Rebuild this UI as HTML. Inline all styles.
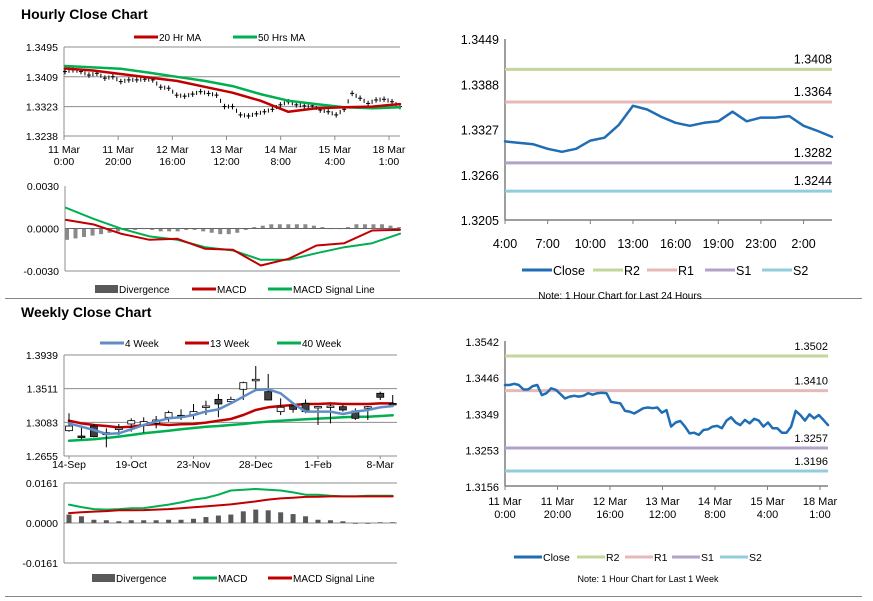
<!DOCTYPE html>
<html><head><meta charset="utf-8"><style>
html,body{margin:0;padding:0;background:#fff;}
svg{display:block;font-family:"Liberation Sans",Arial,sans-serif;}
</style></head><body>
<svg id="s" width="873" height="601" viewBox="0 0 873 601" xmlns="http://www.w3.org/2000/svg">
<rect x="0" y="0" width="873" height="601" fill="#fff"/>
<text x="21" y="19" font-size="14" font-weight="bold" fill="#000">Hourly Close Chart</text>
<text x="21" y="317" font-size="14" font-weight="bold" fill="#000">Weekly Close Chart</text>
<line x1="5" y1="298.5" x2="862" y2="298.5" stroke="#888" stroke-width="1"/>
<line x1="5" y1="596.5" x2="862" y2="596.5" stroke="#888" stroke-width="1"/>
<g id="g"></g>
</svg>
<script>
// ---------- DATA ----------
const hTicks = [1.3495, 1.3409, 1.3323, 1.3238];
const hXLabels = [["11 Mar","0:00"],["11 Mar","20:00"],["12 Mar","16:00"],["13 Mar","12:00"],["14 Mar","8:00"],["15 Mar","4:00"],["18 Mar","1:00"]];
const hClose = [1.3424,1.3429,1.3424,1.3414,1.3419,1.3405,1.3409,1.3395,1.3400,1.3400,1.3402,1.3400,1.3379,1.3376,1.3356,1.3353,1.3359,1.3366,1.3361,1.3356,1.3323,1.3323,1.3299,1.3296,1.3302,1.3308,1.3315,1.3328,1.3337,1.3328,1.3325,1.3325,1.3313,1.3308,1.3299,1.3315,1.3361,1.3347,1.3332,1.3342,1.3344,1.3337,1.3323];
const hMA20 = [1.3433,1.3427,1.3417,1.3407,1.3397,1.3380,1.3363,1.3340,1.3308,1.3318,1.3321,1.3323,1.3330];
const hMA50 = [1.3440,1.3436,1.3432,1.3421,1.3409,1.3397,1.3382,1.3359,1.3340,1.3330,1.3321,1.3318,1.3321];
const hmTicks = [0.0030, 0.0000, -0.0030];
const hMacd = [0.00061,0.00028,-0.00038,-0.0008,-0.00073,-0.00143,-0.0015,-0.00261,-0.00214,-0.0012,-0.00104,-0.00014,-0.0001];
const hSignal = [0.00146,0.00068,-0.00002,-0.00056,-0.0008,-0.00132,-0.00155,-0.00221,-0.00221,-0.00174,-0.00132,-0.00104,-0.00037];
const hDiv = [-0.0008,-0.0007,-0.0006,-0.0005,-0.0004,-0.0003,-0.0002,-0.0001,-0.0001,0,-0.0001,-0.0002,-0.0002,-0.0002,-0.0001,-0.0001,-0.0002,-0.0003,-0.0004,-0.0004,-0.0003,-0.0001,0.0001,0.0002,0.0003,0.0003,0.0003,0.0003,0.0003,0.0002,0.0001,0,0,0.0001,0.0003,0.0003,0.0003,0.0003,0.0002,0.0001];
const dTicks = [1.3449,1.3388,1.3327,1.3266,1.3205];
const dHours = ["4:00","5:00","6:00","7:00","8:00","9:00","10:00","11:00","12:00","13:00","14:00","15:00","16:00","17:00","18:00","19:00","20:00","21:00","23:00","0:00","1:00","2:00","3:00","4:00"];
const dXLabels = ["4:00","7:00","10:00","13:00","16:00","19:00","23:00","2:00"];
const dClose = [1.3311,1.3309,1.3307,1.3301,1.3297,1.3301,1.3312,1.3316,1.3333,1.3359,1.3354,1.3344,1.3336,1.3332,1.3336,1.3338,1.3351,1.3338,1.3343,1.3343,1.3345,1.3332,1.3325,1.3317];
const dLevels = [1.3408,1.3364,1.3282,1.3244];
const dLevelNames = ["R2","R1","S1","S2"];
const wkTicks = [1.3542,1.3446,1.3349,1.3253,1.3156];
const wkXLabels = [["11 Mar","0:00"],["11 Mar","20:00"],["12 Mar","16:00"],["13 Mar","12:00"],["14 Mar","8:00"],["15 Mar","4:00"],["18 Mar","1:00"]];
const wkClose = [1.3425,1.3425,1.3428,1.3425,1.3413,1.3413,1.3422,1.3425,1.3398,1.3403,1.3416,1.3412,1.3401,1.3389,1.3394,1.3396,1.3394,1.3396,1.3403,1.3399,1.3403,1.3404,1.3403,1.3380,1.3378,1.3376,1.3356,1.3354,1.3349,1.3356,1.3363,1.3365,1.3363,1.3365,1.3351,1.3358,1.3314,1.3325,1.3329,1.3314,1.3296,1.3298,1.3292,1.3305,1.3307,1.3314,1.3316,1.3310,1.3330,1.3339,1.3325,1.3318,1.3332,1.3323,1.3335,1.3330,1.3314,1.3325,1.3310,1.3310,1.3298,1.3298,1.3314,1.3356,1.3345,1.3330,1.3347,1.3336,1.3345,1.3332,1.3318];
const wkLevels = [1.3502,1.3410,1.3257,1.3196];
const wTicks = [1.3939,1.3511,1.3083,1.2655];
const wXLabels = ["14-Sep","19-Oct","23-Nov","28-Dec","1-Feb","8-Mar"];
const wOpen  = [1.2977,1.2909,1.3036,1.2952,1.3007,1.3062,1.3049,1.3070,1.3147,1.3172,1.3176,1.3274,1.3375,1.3346,1.3503,1.3621,1.3473,1.3219,1.3291,1.3324,1.3282,1.3274,1.3282,1.3227,1.3265,1.3452,1.3324];
const wClose = [1.3036,1.2892,1.2901,1.2926,1.3010,1.3104,1.3092,1.3113,1.3206,1.3147,1.3219,1.3291,1.3316,1.3375,1.3587,1.3630,1.3367,1.3274,1.3248,1.3219,1.3285,1.3291,1.3240,1.3134,1.3282,1.3401,1.3316];
const wHigh  = [1.3198,1.3019,1.3062,1.3007,1.3062,1.3134,1.3147,1.3164,1.3231,1.3248,1.3316,1.3358,1.3443,1.3409,1.3600,1.3799,1.3698,1.3388,1.3316,1.3375,1.3291,1.3316,1.3303,1.3261,1.3291,1.3473,1.3430];
const wLow   = [1.2964,1.2867,1.2892,1.2765,1.2922,1.2964,1.2952,1.3007,1.3092,1.3113,1.3121,1.3176,1.3147,1.3316,1.3367,1.3503,1.3367,1.3176,1.3206,1.3198,1.3049,1.3070,1.3219,1.3113,1.3113,1.3367,1.3282];
const wMA4  = [1.3070,1.3028,1.2986,1.2935,1.2943,1.2994,1.3049,1.3092,1.3134,1.3147,1.3176,1.3219,1.3248,1.3324,1.3409,1.3494,1.3503,1.3452,1.3324,1.3219,1.3219,1.3219,1.3189,1.3219,1.3240,1.3274,1.3291];
const wMA13 = [1.3104,1.3070,1.3049,1.3036,1.3019,1.3028,1.3049,1.3062,1.3049,1.3058,1.3062,1.3079,1.3104,1.3126,1.3176,1.3240,1.3274,1.3291,1.3303,1.3316,1.3316,1.3324,1.3316,1.3316,1.3316,1.3324,1.3324];
const wMA40 = [1.2850,1.2858,1.2867,1.2884,1.2901,1.2922,1.2943,1.2960,1.2977,1.2994,1.3011,1.3028,1.3036,1.3049,1.3062,1.3079,1.3092,1.3104,1.3113,1.3121,1.3130,1.3138,1.3147,1.3155,1.3155,1.3164,1.3172];
const wmTicks = [0.0161,0.0000,-0.0161];
const wMacd = [0.0074,0.0064,0.0056,0.0054,0.0056,0.0059,0.0060,0.0067,0.0074,0.0083,0.0094,0.0101,0.0114,0.0131,0.0134,0.0137,0.0134,0.0131,0.0123,0.0114,0.0114,0.0110,0.0107,0.0107,0.0110,0.0110,0.0110];
const wSignal = [0.0040,0.0043,0.0046,0.0048,0.0051,0.0051,0.0052,0.0054,0.0056,0.0059,0.0063,0.0067,0.0071,0.0075,0.0081,0.0087,0.0094,0.0099,0.0102,0.0105,0.0106,0.0107,0.0107,0.0107,0.0107,0.0107,0.0107];
const wDiv = [0.0034,0.0027,0.0013,0.0011,0.0007,0.0011,0.0011,0.0011,0.0013,0.0013,0.0017,0.0024,0.0030,0.0034,0.0047,0.0054,0.0051,0.0043,0.0036,0.0027,0.0013,0.0011,0.0007,-0.0003,-0.0003,0.0003,0.0003];

// ---------- HELPERS ----------
const NS = 'http://www.w3.org/2000/svg';
const G = document.getElementById('g');
function mk(tag, attrs, parent) {
  const e = document.createElementNS(NS, tag);
  for (const k in attrs) e.setAttribute(k, attrs[k]);
  (parent || G).appendChild(e);
  return e;
}
function lin(d0, d1, r0, r1) { return v => r0 + (v - d0) / (d1 - d0) * (r1 - r0); }
function txt(x, y, s, size, anchor, name, fill) {
  const t = mk('text', {x: x, y: y, 'font-size': size, 'text-anchor': anchor || 'start', fill: fill || '#000'});
  t.textContent = s;
  
  
  return t;
}
function poly(vals, xf, yf, color, w, name) {
  const pts = vals.map((v, i) => xf(i).toFixed(1) + ',' + yf(v).toFixed(1)).join(' ');
  const p = mk('polyline', {points: pts, fill: 'none', stroke: color, 'stroke-width': w, 'stroke-linejoin': 'round', 'stroke-linecap': 'round'});
  
  
  return p;
}
function hline(x1, x2, y, color, w, name) {
  const l = mk('line', {x1: x1, x2: x2, y1: y, y2: y, stroke: color, 'stroke-width': w});
  
  
  return l;
}
function vline(x, y1, y2, color, w, name) {
  const l = mk('line', {x1: x, x2: x, y1: y1, y2: y2, stroke: color, 'stroke-width': w});
  
  
  return l;
}
function legLine(x, y, color, label, name, w) {
  hline(x, x + 24, y, color, w || 3, name + '-swatch');
  txt(x + 25, y + 4, label, 10, 'start', name + '-label');
}
function legBox(x, y, label, name) {
  const r = mk('rect', {x: x, y: y - 4, width: 23, height: 8, fill: '#595959'});
  
  
  txt(x + 24, y + 4, label, 10, 'start', name + '-label');
}
const fmt4 = v => v.toFixed(4);
const RED = '#c00000', GREEN = '#00b050', GRID = '#8c8c8c';

// ---------- HOURLY PRICE ----------
(function () {
  const x0 = 64, x1 = 400;
  const y = lin(1.3238, 1.3495, 136, 47);
  hTicks.forEach((t, i) => {
    if (i < hTicks.length - 1) hline(x0, x1, y(t), GRID, 1, 'hourly-gridline');
    txt(x0 - 6, y(t) + 4, fmt4(t), 10.5, 'end', 'hourly-y-tick');
  });
  vline(x0, 47, 136, GRID, 1, 'hourly-y-axis');
  hline(x0, x1, 136, GRID, 1, 'hourly-x-axis');
  const step = (x1 - x0 - 11) / (hXLabels.length - 1);
  hXLabels.forEach((l, i) => {
    const xx = x0 + i * step;
    vline(xx, 136, 140, GRID, 1, 'hourly-x-tick');
    txt(xx, 153, l[0], 10.5, 'middle', 'hourly-x-label');
    txt(xx, 165, l[1], 10.5, 'middle', 'hourly-x-label');
  });
  const xb = lin(0, hClose.length - 1, x0 + 1, x1);
  hClose.forEach((v, i) => {
    vline(xb(i), y(v + 0.0008), y(v - 0.0008), '#000', 1, 'hourly-price-bar');
    hline(xb(i) - 2, xb(i) + 2, y(v), '#000', 1, 'hourly-price-bar-tick');
    if (i < hClose.length - 1) {
      const xm2 = (xb(i) + xb(i + 1)) / 2, vm = (v + hClose[i + 1]) / 2;
      vline(xm2, y(vm + 0.0006), y(vm - 0.0006), '#000', 1, 'hourly-price-bar');
    }
  });
  const xm = lin(0, hMA50.length - 1, x0 + 1, x1);
  poly(hMA50, xm, y, GREEN, 2.5, 'hourly-ma50-line');
  poly(hMA20, xm, y, RED, 2.5, 'hourly-ma20-line');
  legLine(134, 37, RED, '20 Hr MA', 'legend-20hr-ma');
  legLine(233, 37, GREEN, '50 Hrs MA', 'legend-50hrs-ma');
})();

// ---------- HOURLY MACD ----------
(function () {
  const x0 = 65, x1 = 400;
  const y = lin(-0.003, 0.003, 271, 186);
  hmTicks.forEach(t => txt(x0 - 6, y(t) + 4, t.toFixed(4), 10.5, 'end', 'hourly-macd-y-tick'));
  vline(x0, 186, 271, GRID, 1, 'hourly-macd-y-axis');
  hline(x0, x1, 271, GRID, 1, 'hourly-macd-x-axis');
  const xd = lin(0, hDiv.length - 1, x0 + 2, x1 - 1);
  hDiv.forEach((v, i) => {
    const r = mk('rect', {x: xd(i) - 2, y: Math.min(y(v), y(0)), width: 4, height: Math.max(0.6, Math.abs(y(v) - y(0))), fill: '#8a8a8a'});
    
    
  });
  hline(x0, x1, y(0), '#666', 1, 'hourly-macd-zero-line');
  const xm = lin(0, hMacd.length - 1, x0 + 1, x1);
  poly(hSignal, xm, y, GREEN, 2, 'hourly-macd-signal-line');
  poly(hMacd, xm, y, RED, 2, 'hourly-macd-line');
  legBox(95, 289, 'Divergence', 'legend-hourly-divergence');
  legLine(192, 289, RED, 'MACD', 'legend-hourly-macd');
  legLine(268, 289, GREEN, 'MACD Signal Line', 'legend-hourly-signal');
})();

// ---------- LEVEL CHART helper ----------
const levelColors = ['#c3d69b', '#e6b9b8', '#b3a2c7', '#93cddd'];
function levelChart(o) {
  const y = lin(o.ticks[o.ticks.length - 1], o.ticks[0], o.yb, o.yt);
  o.ticks.forEach(t => txt(o.x0 - 6, y(t) + 5, fmt4(t), o.fs, 'end', o.pre + '-y-tick'));
  vline(o.x0, o.yt, o.yb, '#7f7f7f', 1.5, o.pre + '-y-axis');
  hline(o.x0, o.x1, o.yb, '#7f7f7f', 1.5, o.pre + '-x-axis');
  o.levels.forEach((v, i) => {
    hline(o.x0, o.x1, y(v), levelColors[i], 3, o.pre + '-level-' + dLevelNames[i].toLowerCase());
    txt(o.x1, y(v) - 6, fmt4(v), o.fs, 'end', o.pre + '-level-label');
  });
  const xc = lin(0, o.close.length - 1, o.x0, o.x1);
  poly(o.close, xc, y, '#1f6db4', 2.5, o.pre + '-close-line');
  return y;
}

// ---------- 24H CHART ----------
(function () {
  const x0 = 505, x1 = 832;
  levelChart({x0: x0, x1: x1, yt: 39, yb: 220, ticks: dTicks, levels: dLevels, close: dClose, fs: 12.5, pre: 'day'});
  const xc = lin(0, dHours.length - 1, x0, x1);
  dXLabels.forEach((l, i) => {
    const xx = xc(i * 3);
    vline(xx, 220, 224, '#7f7f7f', 1, 'day-x-tick');
    txt(xx, 248, l, 12.5, 'middle', 'day-x-label');
  });
  const lx = [552, 623, 677, 735, 792];
  const cols = ['#1f6db4'].concat(levelColors);
  ['Close'].concat(dLevelNames).forEach((n, i) => {
    hline(lx[i] - 30, lx[i], 270, cols[i], 3, 'legend-day-' + n.toLowerCase() + '-swatch');
    txt(lx[i] + 1, 275, n, 12.5, 'start', 'legend-day-' + n.toLowerCase() + '-label');
  });
  txt(620, 299, 'Note: 1 Hour Chart for Last 24 Hours', 10, 'middle', 'day-note');
})();

// ---------- WEEK CHART ----------
(function () {
  const x0 = 505, x1 = 828;
  levelChart({x0: x0, x1: x1, yt: 341, yb: 486, ticks: wkTicks, levels: wkLevels, close: wkClose, fs: 11, pre: 'week'});
  const step = (x1 - 8 - x0) / (wkXLabels.length - 1);
  wkXLabels.forEach((l, i) => {
    const xx = x0 + i * step;
    vline(xx, 486, 490, '#7f7f7f', 1, 'week-x-tick');
    txt(xx, 505, l[0], 11, 'middle', 'week-x-label');
    txt(xx, 518, l[1], 11, 'middle', 'week-x-label');
  });
  const lx = [542, 605, 653, 700, 748];
  const cols = ['#1f6db4'].concat(levelColors);
  ['Close'].concat(dLevelNames).forEach((n, i) => {
    hline(lx[i] - 28, lx[i], 557, cols[i], 3, 'legend-week-' + n.toLowerCase() + '-swatch');
    txt(lx[i] + 1, 561, n, 10.5, 'start', 'legend-week-' + n.toLowerCase() + '-label');
  });
  txt(648, 582, 'Note: 1 Hour Chart for  Last 1 Week', 9, 'middle', 'week-note');
})();

// ---------- WEEKLY CANDLES ----------
(function () {
  const x0 = 64, x1 = 397;
  const y = lin(1.2655, 1.3939, 456, 355);
  wTicks.forEach((t, i) => {
    if (i < wTicks.length - 1) hline(x0, x1, y(t), GRID, 1, 'weekly-gridline');
    txt(x0 - 6, y(t) + 4, fmt4(t), 10.5, 'end', 'weekly-y-tick');
  });
  vline(x0, 355, 456, GRID, 1, 'weekly-y-axis');
  hline(x0, x1, 456, GRID, 1, 'weekly-x-axis');
  const xc = lin(0, wOpen.length - 1, 69, 392.7);
  wXLabels.forEach((l, i) => {
    vline(xc(i * 5), 456, 459, GRID, 1, 'weekly-x-tick');
    txt(xc(i * 5), 468, l, 10.5, 'middle', 'weekly-x-label');
  });
  poly(wMA40, xc, y, GREEN, 2.5, 'weekly-ma40-line');
  poly(wMA13, xc, y, RED, 2.5, 'weekly-ma13-line');
  wOpen.forEach((o, i) => {
    const c = wClose[i];
    vline(xc(i), y(wHigh[i]), y(wLow[i]), '#000', 1, 'weekly-candle-wick');
    const top = y(Math.max(o, c)), bot = y(Math.min(o, c));
    const r = mk('rect', {x: xc(i) - 3.5, y: top, width: 7, height: Math.max(1.5, bot - top), fill: c >= o ? '#fff' : '#404040', stroke: '#000', 'stroke-width': 0.8});
    
    
  });
  poly(wMA4, xc, y, '#5f8dc7', 2.5, 'weekly-ma4-line');
  legLine(100, 343, '#5f8dc7', '4 Week', 'legend-4-week');
  legLine(185, 343, RED, '13 Week', 'legend-13-week');
  legLine(277, 343, GREEN, '40 Week', 'legend-40-week');
})();

// ---------- WEEKLY MACD ----------
(function () {
  const x0 = 64, x1 = 397;
  const y = lin(-0.0161, 0.0161, 563, 483);
  wmTicks.forEach((t, i) => {
    if (i < 2) hline(x0, x1, y(t), GRID, 1, 'weekly-macd-gridline');
    txt(x0 - 6, y(t) + 4, t.toFixed(4), 10.5, 'end', 'weekly-macd-y-tick');
  });
  vline(x0, 483, 563, GRID, 1, 'weekly-macd-y-axis');
  hline(x0, x1, 563, GRID, 1, 'weekly-macd-x-axis');
  const xc = lin(0, wDiv.length - 1, 69, 392.7);
  wDiv.forEach((v, i) => {
    const r = mk('rect', {x: xc(i) - 2.5, y: Math.min(y(v), y(0)), width: 5, height: Math.abs(y(v) - y(0)), fill: '#595959'});
    
    
  });
  poly(wMacd, xc, y, GREEN, 2, 'weekly-macd-line');
  poly(wSignal, xc, y, RED, 2, 'weekly-macd-signal-line');
  legBox(92, 578, 'Divergence', 'legend-weekly-divergence');
  legLine(193, 578, GREEN, 'MACD', 'legend-weekly-macd');
  legLine(268, 578, RED, 'MACD Signal Line', 'legend-weekly-signal');
})();
</script>
</body></html>
